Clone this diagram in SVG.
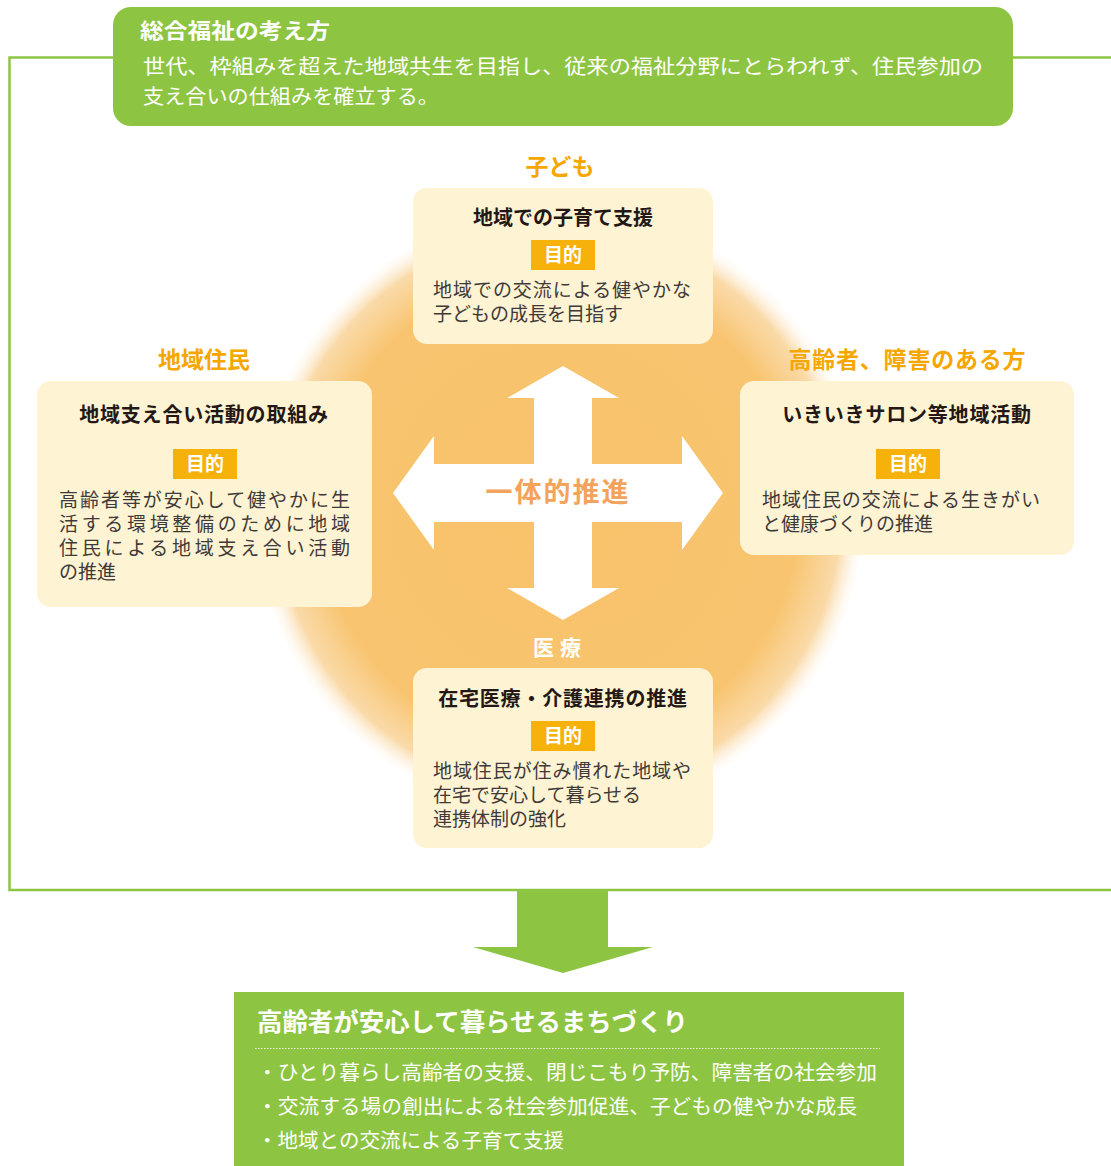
<svg xmlns="http://www.w3.org/2000/svg" width="1111" height="1166" viewBox="0 0 1111 1166">
<defs>
<radialGradient id="glow" cx="560" cy="512" r="305" gradientUnits="userSpaceOnUse">
<stop offset="0" stop-color="#f8c26a"/>
<stop offset="0.78" stop-color="#f8c46f"/>
<stop offset="0.92" stop-color="#f9d398" stop-opacity="0.85"/>
<stop offset="1" stop-color="#fdf0dc" stop-opacity="0"/>
</radialGradient>
<style>
text{font-family:"Noto Sans CJK JP","Noto Sans",sans-serif}
.green{fill:#8dc542}
.card{fill:#fef3d2}
.badge{fill:#f6b10a}
.badgeT{fill:#fff;font-size:19px;font-weight:700;text-anchor:middle}
.title{fill:#231815;font-size:20px;font-weight:700;text-anchor:middle}
.body{fill:#3e3a39;font-size:19px}
.cat{fill:#f5a700;font-size:23px;font-weight:700;text-anchor:middle}
.wt{fill:#fff}
</style>
</defs>
<rect width="1111" height="1166" fill="#fff"/>
<circle cx="560" cy="512" r="305" fill="url(#glow)"/>
<path d="M1111,57.5 H9.5 V890 H1111" fill="none" stroke="#8dc542" stroke-width="2.5"/>

<g id="concept">
<rect x="113" y="7" width="900" height="119" rx="18" class="green"/>
<text x="140" y="38" class="wt" font-size="21" font-weight="700" textLength="190" lengthAdjust="spacingAndGlyphs">総合福祉の考え方</text>
<text x="143" y="74" class="wt" font-size="20.5" textLength="840" lengthAdjust="spacingAndGlyphs">世代、枠組みを超えた地域共生を目指し、従来の福祉分野にとらわれず、住民参加の</text>
<text x="143" y="104" class="wt" font-size="20.5" textLength="296" lengthAdjust="spacingAndGlyphs">支え合いの仕組みを確立する。</text>
</g>

<g id="connectors">
<path d="M563,366 L619,398 H592 V464 H682 V436 L723,493 L682,550 V522 H592 V588 H619 L563,620 L507,588 H534 V522 H434 V550 L393,493 L434,436 V464 H534 V398 H507 Z" fill="#fff"/>
<path d="M517,890 H608 V947 H653 L563,973 L473,947 H517 Z" class="green"/>
</g>

<g id="center-label">
<text x="558" y="502" fill="#f3a35c" font-size="27" font-weight="700" text-anchor="middle" letter-spacing="2">一体的推進</text>
</g>

<g id="node-children">
<text x="560" y="175" class="cat">子ども</text>
<rect x="413" y="188" width="300" height="156" rx="14" class="card"/>
<text x="563" y="225" class="title">地域での子育て支援</text>
<rect x="531" y="240" width="64" height="30" class="badge"/>
<text x="563" y="262" class="badgeT">目的</text>
<text x="433" y="297" class="body" textLength="258" lengthAdjust="spacing">地域での交流による健やかな</text>
<text x="433" y="321" class="body">子どもの成長を目指す</text>
</g>

<g id="node-residents">
<text x="204" y="368" class="cat">地域住民</text>
<rect x="37" y="381" width="335" height="226" rx="14" class="card"/>
<text x="204" y="422" class="title" letter-spacing="0.8">地域支え合い活動の取組み</text>
<rect x="173" y="449" width="64" height="30" class="badge"/>
<text x="205" y="471" class="badgeT">目的</text>
<text x="59" y="507" class="body" textLength="291" lengthAdjust="spacing">高齢者等が安心して健やかに生</text>
<text x="59" y="531" class="body" textLength="291" lengthAdjust="spacing">活する環境整備のために地域</text>
<text x="59" y="555" class="body" textLength="291" lengthAdjust="spacing">住民による地域支え合い活動</text>
<text x="59" y="579" class="body">の推進</text>
</g>

<g id="node-elderly">
<text x="907" y="368" class="cat" textLength="237" lengthAdjust="spacing">高齢者、障害のある方</text>
<rect x="740" y="381" width="334" height="174" rx="14" class="card"/>
<text x="907" y="422" class="title" letter-spacing="0.8">いきいきサロン等地域活動</text>
<rect x="876" y="449" width="64" height="30" class="badge"/>
<text x="908" y="471" class="badgeT">目的</text>
<text x="762" y="507" class="body" textLength="278" lengthAdjust="spacing">地域住民の交流による生きがい</text>
<text x="762" y="531" class="body">と健康づくりの推進</text>
</g>

<g id="node-medical">
<text x="560" y="655" fill="#fff" font-size="21" font-weight="700" text-anchor="middle" letter-spacing="6">医療</text>
<rect x="413" y="668" width="300" height="180" rx="14" class="card"/>
<text x="563" y="706" class="title" letter-spacing="0.8">在宅医療・介護連携の推進</text>
<rect x="531" y="721" width="64" height="30" class="badge"/>
<text x="563" y="743" class="badgeT">目的</text>
<text x="433" y="778" class="body" textLength="258" lengthAdjust="spacing">地域住民が住み慣れた地域や</text>
<text x="433" y="802" class="body">在宅で安心して暮らせる</text>
<text x="433" y="826" class="body">連携体制の強化</text>
</g>

<g id="goal">
<rect x="234" y="992" width="670" height="174" class="green"/>
<text x="257" y="1031" class="wt" font-size="24.5" font-weight="700" textLength="431" lengthAdjust="spacingAndGlyphs">高齢者が安心して暮らせるまちづくり</text>
<line x1="255" y1="1048.5" x2="880" y2="1048.5" stroke="#fff" stroke-width="1.2" stroke-dasharray="1.5 1.5" opacity="0.85"/>
<text x="257" y="1080" class="wt" font-size="20.5" textLength="620" lengthAdjust="spacingAndGlyphs">・ひとり暮らし高齢者の支援、閉じこもり予防、障害者の社会参加</text>
<text x="257" y="1114" class="wt" font-size="20.5" textLength="600" lengthAdjust="spacingAndGlyphs">・交流する場の創出による社会参加促進、子どもの健やかな成長</text>
<text x="257" y="1148" class="wt" font-size="20.5" textLength="307" lengthAdjust="spacingAndGlyphs">・地域との交流による子育て支援</text>
</g>
</svg>
